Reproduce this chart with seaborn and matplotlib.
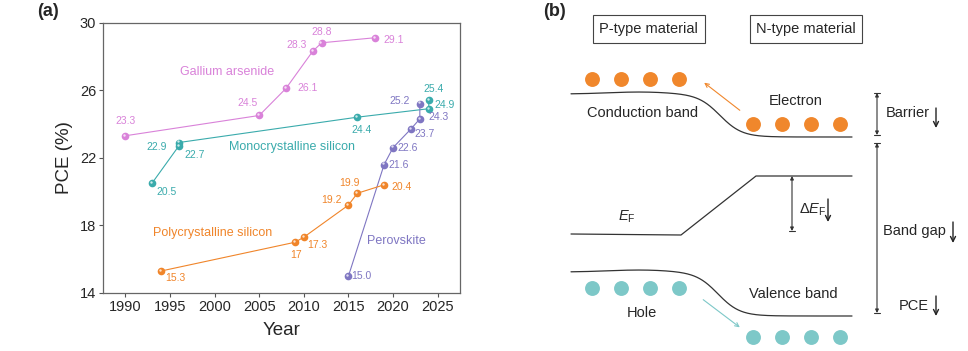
import numpy as np
import pandas as pd
import matplotlib
matplotlib.use("Agg")
import matplotlib.pyplot as plt
import matplotlib.transforms as mtransforms
import seaborn as sns

# ---- data (year, PCE %) ----
gaas_year = [1990, 2005, 2008, 2011, 2012, 2018]
gaas_pce = [23.3, 24.5, 26.1, 28.3, 28.8, 29.1]
gaas_lab = ["23.3", "24.5", "26.1", "28.3", "28.8", "29.1"]

mono_year = [1993, 1996, 1996, 2016, 2024, 2024]
mono_pce = [20.5, 22.7, 22.9, 24.4, 24.9, 25.4]
mono_lab = ["20.5", "22.7", "22.9", "24.4", "24.9", "25.4"]

pero_year = [2015, 2019, 2020, 2022, 2023, 2023]
pero_pce = [15.0, 21.6, 22.6, 23.7, 24.3, 25.2]
pero_lab = ["15.0", "21.6", "22.6", "23.7", "24.3", "25.2"]

poly_year = [1994, 2009, 2010, 2015, 2016, 2019]
poly_pce = [15.3, 17.0, 17.3, 19.2, 19.9, 20.4]
poly_lab = ["15.3", "17", "17.3", "19.2", "19.9", "20.4"]

materials = ["Gallium arsenide", "Monocrystalline silicon", "Perovskite", "Polycrystalline silicon"]
colors = ["#D982D9", "#3AABAC", "#7F76C2", "#F0852A"]

# label offsets in pixels (right, down) from each point
gaas_off = [(0, -15), (-12, -12), (22, 0), (-16, -6), (0, -11), (18, 2)]
mono_off = [(14, 9), (16, 9), (-22, 4), (4, 13), (16, -4), (5, -11)]
pero_off = [(13, 0), (14, 0), (15, 0), (14, 5), (19, -2), (-20, -3)]
poly_off = [(14, 7), (1, 13), (14, 8), (-17, -5), (-8, -10), (17, 2)]

# series name positions (year, PCE)
name_pos = [(2001.4, 27.1), (2008.7, 22.66), (2020.4, 17.07), (1999.8, 17.57)]

years = [gaas_year, mono_year, pero_year, poly_year]
pces = [gaas_pce, mono_pce, pero_pce, poly_pce]
labs = [gaas_lab, mono_lab, pero_lab, poly_lab]
offs = [gaas_off, mono_off, pero_off, poly_off]

df = pd.concat([pd.DataFrame({"Year": y, "PCE": p, "Material": m})
                for y, p, m in zip(years, pces, materials)], ignore_index=True)

sns.set_theme(style="ticks")
plt.rcParams["font.family"] = ["Liberation Sans", "DejaVu Sans"]
plt.rcParams["mathtext.fontset"] = "custom"
plt.rcParams["mathtext.rm"] = "Liberation Sans"
plt.rcParams["mathtext.it"] = "Liberation Sans:italic"

fig = plt.figure(figsize=(9.68, 3.51), dpi=100)

# ---------------- panel (a) ----------------
ax = fig.add_axes([103 / 968, 58 / 351, 357 / 968, 270.5 / 351])
sns.lineplot(data=df, x="Year", y="PCE", hue="Material", hue_order=materials,
             palette=colors, estimator=None, sort=False, marker="o", markersize=5.5,
             markeredgewidth=0, linewidth=0.8, legend=False, ax=ax)

# small highlight on each ball
hl = ax.transData + mtransforms.ScaledTranslation(-1.2 / 100, 1.2 / 100, fig.dpi_scale_trans)
for y, p, l, o, c, m, npos in zip(years, pces, labs, offs, colors, materials, name_pos):
    ax.scatter(y, p, s=3, color="white", alpha=0.75, linewidths=0, transform=hl, zorder=5)
    for xi, yi, li, (dx, dy) in zip(y, p, l, o):
        ax.annotate(li, (xi, yi), xytext=(dx, -dy), textcoords="offset pixels",
                    ha="center", va="center", fontsize=7.5, color=c)
    ax.text(npos[0], npos[1], m, ha="center", va="center", fontsize=9, color=c)

ax.set_xlim(1987.5, 2027.5)
ax.set_ylim(14, 30)
ax.set_xticks(range(1990, 2026, 5))
ax.set_yticks([14, 18, 22, 26, 30])
ax.tick_params(labelsize=10.5, length=3, width=0.8, color="#555555", pad=2)
for s in ax.spines.values():
    s.set_visible(True)
    s.set_color("#666666")
    s.set_linewidth(0.9)
ax.set_xlabel("Year", fontsize=13.5, labelpad=6)
ax.set_ylabel("PCE (%)", fontsize=13.5, labelpad=5)
fig.text(48 / 968, 1 - 12 / 351, "(a)", fontsize=13, fontweight="bold", ha="center", va="center")

# ---------------- panel (b): band diagram, pixel coordinates ----------------
bx = fig.add_axes([480 / 968, 0, 488 / 968, 1])
bx.set_xlim(480, 968)
bx.set_ylim(351, 0)
bx.axis("off")
bx.patch.set_alpha(0)

bx.text(555, 12, "(b)", fontsize=13, fontweight="bold", ha="center", va="center")
for cx, txt in [(648.5, "P-type material"), (806, "N-type material")]:
    bx.text(cx, 29, txt, fontsize=10.5, ha="center", va="center",
            bbox=dict(boxstyle="square,pad=0.45", fc="white", ec="#444444", lw=0.8))

xs = np.linspace(571, 852, 300)
bump = 2.0 * np.exp(-((xs - 640) / 45) ** 2)
cb = 115.5 + 21.5 * np.tanh((xs - 720) / 22) - bump
vb = 294 + 22 * np.tanh((xs - 718) / 22) - bump
bx.plot(xs, cb, color="#333333", lw=0.9)
bx.plot(xs, vb, color="#333333", lw=0.9)
bx.plot([571, 681, 756, 852], [234, 235, 176, 176], color="#333333", lw=0.9)

orange = "#F0872C"
teal = "#7DC8C8"
top_x = [592, 621, 650, 679]
bot_x = [753, 782, 811, 840]
bx.scatter(top_x, [79] * 4, s=115, color=orange, linewidths=0)
bx.scatter(bot_x, [124] * 4, s=115, color=orange, linewidths=0)
bx.scatter(top_x, [288] * 4, s=115, color=teal, linewidths=0)
bx.scatter(bot_x, [337] * 4, s=115, color=teal, linewidths=0)

bx.annotate("", xy=(702, 81), xytext=(742, 112),
            arrowprops=dict(arrowstyle="->", color=orange, lw=0.8, mutation_scale=7))
bx.annotate("", xy=(742, 329), xytext=(701, 298),
            arrowprops=dict(arrowstyle="->", color=teal, lw=0.8, mutation_scale=7))

fs = 10.5
bx.text(643, 113, "Conduction band", fontsize=fs, ha="center", va="center")
bx.text(796, 101, "Electron", fontsize=fs, ha="center", va="center")
bx.text(793, 294, "Valence band", fontsize=fs, ha="center", va="center")
bx.text(642, 313, "Hole", fontsize=fs, ha="center", va="center")
bx.text(627, 217, r"$E_{\rm F}$", fontsize=fs, ha="center", va="center")
bx.text(799, 210, r"$\Delta E_{\rm F}$", fontsize=fs, ha="left", va="center")


def dim_arrow(x, y0, y1, bar_top=True):
    bx.annotate("", xy=(x, y0), xytext=(x, y1),
                arrowprops=dict(arrowstyle="<|-|>", color="#333333", lw=0.8,
                                mutation_scale=5, shrinkA=0, shrinkB=0))
    if bar_top:
        bx.plot([x - 3, x + 3], [y0, y0], color="#333333", lw=0.8)
    bx.plot([x - 3, x + 3], [y1, y1], color="#333333", lw=0.8)


def down_arrow(x, y0, y1):
    bx.annotate("", xy=(x, y1), xytext=(x, y0),
                arrowprops=dict(arrowstyle="->", color="#222222", lw=1.0,
                                mutation_scale=9, shrinkA=0, shrinkB=0))


dim_arrow(877, 93, 135)
dim_arrow(877, 143, 313)
dim_arrow(792, 176, 231, bar_top=False)

bx.text(886, 113, "Barrier", fontsize=fs, ha="left", va="center")
bx.text(883, 231, "Band gap", fontsize=fs, ha="left", va="center")
bx.text(899, 306, "PCE", fontsize=fs, ha="left", va="center")
down_arrow(936, 108, 128)
down_arrow(953, 222, 243)
down_arrow(936, 296, 316)
down_arrow(828, 199, 222)

fig.savefig("out.png", dpi=100)
